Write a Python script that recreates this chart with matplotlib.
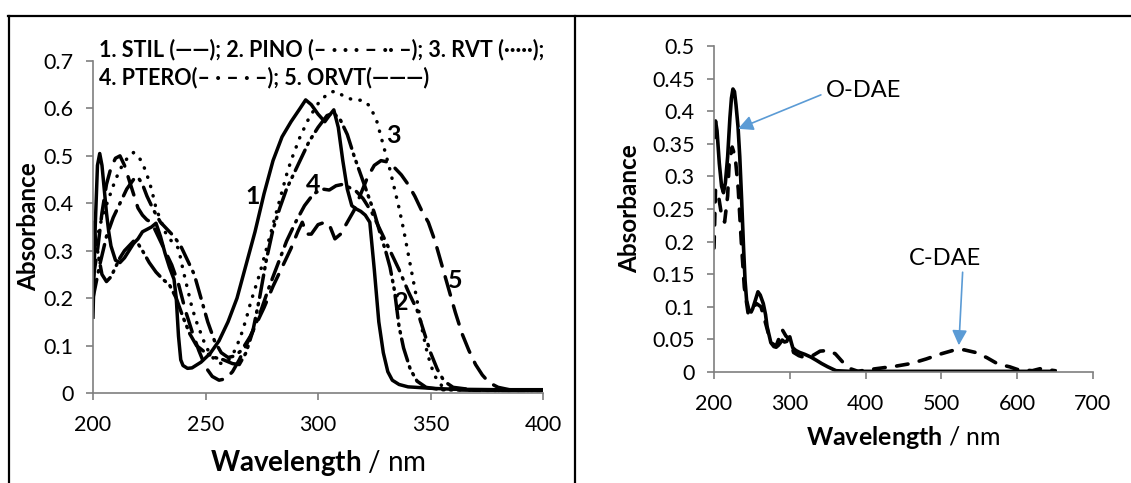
import matplotlib
matplotlib.use("Agg")
import matplotlib.pyplot as plt
from matplotlib.lines import Line2D

plt.rcParams['font.family'] = ['Lato', 'DejaVu Sans']
plt.rcParams['mathtext.fontset'] = 'custom'
plt.rcParams['mathtext.rm'] = 'Lato'
plt.rcParams['mathtext.bf'] = 'Lato:bold'

# ---- left panel: stilbene spectra ----
wl_stil = [200, 201, 202, 203, 204, 205, 206, 207, 208, 210, 212, 214, 216, 218, 220,
           222, 224, 226, 228, 230, 232, 234, 236, 237, 238, 239, 240, 242, 244, 248,
           252, 256, 260, 264, 268, 272, 276, 280, 284, 288, 292, 294.5, 297, 300,
           303, 305, 307, 309, 311, 313, 315, 317, 319, 321, 323, 325, 327, 329, 331,
           333, 336, 340, 350, 360, 380, 400]
abs_stil = [0.16, 0.35, 0.48, 0.505, 0.48, 0.43, 0.38, 0.34, 0.31, 0.28, 0.275, 0.285,
            0.3, 0.315, 0.325, 0.34, 0.345, 0.35, 0.358, 0.33, 0.295, 0.265, 0.24, 0.2,
            0.12, 0.07, 0.058, 0.052, 0.053, 0.065, 0.083, 0.11, 0.15, 0.2, 0.27, 0.34,
            0.42, 0.49, 0.54, 0.572, 0.6, 0.618, 0.608, 0.588, 0.572, 0.585, 0.597,
            0.56, 0.49, 0.43, 0.395, 0.388, 0.383, 0.375, 0.36, 0.26, 0.15, 0.085, 0.045,
            0.027, 0.018, 0.013, 0.01, 0.008, 0.007, 0.007]

wl_pino = [200, 202, 204, 206, 208, 210, 212, 214, 216, 218, 220, 222, 225, 228, 231,
           234, 237, 240, 243, 246, 250, 254, 258, 262, 265, 268, 271, 274, 277, 280,
           283, 286, 289, 292, 296, 300, 304, 307, 310, 313, 316, 319, 322, 325, 328,
           330, 332, 334, 336, 338, 341, 344, 348, 355, 380, 400]
abs_pino = [0.36, 0.3, 0.25, 0.235, 0.245, 0.265, 0.285, 0.3, 0.31, 0.32, 0.315, 0.3,
            0.275, 0.255, 0.24, 0.228, 0.2, 0.16, 0.125, 0.1, 0.085, 0.075, 0.07, 0.062,
            0.06, 0.085, 0.13, 0.2, 0.28, 0.345, 0.39, 0.43, 0.46, 0.49, 0.53, 0.56,
            0.585, 0.59, 0.575, 0.545, 0.5, 0.46, 0.42, 0.38, 0.33, 0.3, 0.265, 0.215,
            0.14, 0.095, 0.05, 0.025, 0.012, 0.007, 0.005, 0.005]

wl_rvt = [200, 202, 204, 207, 210, 213, 216, 218, 220, 222, 224, 226, 228, 230, 232,
          234, 236, 238, 240, 242, 244, 246, 248, 250, 252, 254, 256, 258, 260, 262,
          264, 266, 268, 270, 272, 274, 276, 278, 280, 282, 284, 286, 288, 290, 292,
          294, 296, 298, 300, 303, 306, 308, 310, 313, 316, 320, 323, 326, 328, 330,
          332, 334, 336, 338, 340, 342, 344, 346, 348, 350, 352, 355, 360, 380, 400]
abs_rvt = [0.28, 0.33, 0.37, 0.41, 0.45, 0.48, 0.5, 0.507, 0.5, 0.485, 0.46, 0.43, 0.39,
           0.365, 0.34, 0.325, 0.315, 0.305, 0.26, 0.22, 0.18, 0.15, 0.125, 0.1, 0.083,
           0.07, 0.063, 0.062, 0.068, 0.08, 0.1, 0.125, 0.155, 0.19, 0.22, 0.25, 0.285,
           0.32, 0.355, 0.39, 0.425, 0.46, 0.49, 0.515, 0.54, 0.56, 0.58, 0.595, 0.61,
           0.625, 0.635, 0.636, 0.63, 0.622, 0.618, 0.617, 0.605, 0.575, 0.54, 0.505,
           0.47, 0.43, 0.39, 0.345, 0.295, 0.245, 0.195, 0.14, 0.095, 0.06, 0.035, 0.015,
           0.007, 0.005, 0.005]

wl_ptero = [200, 203, 206, 209, 212, 215, 218, 220, 222, 224, 227, 230, 233, 236, 239,
            242, 245, 248, 251, 254, 257, 260, 263, 266, 270, 274, 278, 282, 286, 290,
            294, 298, 302, 305, 308, 311, 314, 317, 320, 324, 328, 332, 336, 340, 344,
            347, 350, 353, 356, 360, 370, 400]
abs_ptero = [0.2, 0.27, 0.33, 0.37, 0.4, 0.43, 0.45, 0.455, 0.44, 0.415, 0.385, 0.36,
             0.345, 0.33, 0.31, 0.28, 0.25, 0.2, 0.15, 0.11, 0.085, 0.075, 0.078, 0.09,
             0.12, 0.165, 0.22, 0.27, 0.32, 0.36, 0.395, 0.42, 0.43, 0.428, 0.437, 0.44,
             0.433, 0.425, 0.41, 0.38, 0.34, 0.3, 0.26, 0.215, 0.175, 0.13, 0.085, 0.05,
             0.025, 0.012, 0.006, 0.005]

wl_orvt = [200, 202, 204, 206, 208, 210, 212, 214, 216, 218, 220, 222, 224, 226, 229,
           232, 235, 238, 241, 244, 247, 250, 253, 256, 259, 262, 265, 268, 272, 276,
           280, 284, 288, 291, 293, 295, 297, 300, 303, 305, 307.5, 310, 313, 316, 319,
           322, 325, 328, 331, 334, 337, 340, 343, 346, 349, 352, 355, 358, 361, 364,
           367, 370, 373, 376, 380, 385, 400]
abs_orvt = [0.24, 0.3, 0.38, 0.44, 0.475, 0.495, 0.5, 0.48, 0.45, 0.42, 0.39, 0.375,
            0.365, 0.36, 0.33, 0.3, 0.27, 0.23, 0.175, 0.13, 0.09, 0.055, 0.035, 0.027,
            0.03, 0.045, 0.07, 0.1, 0.14, 0.18, 0.225, 0.265, 0.305, 0.34, 0.36, 0.335,
            0.335, 0.355, 0.36, 0.355, 0.325, 0.335, 0.36, 0.385, 0.42, 0.455, 0.48, 0.49,
            0.487, 0.475, 0.46, 0.44, 0.415, 0.385, 0.36, 0.32, 0.27, 0.22, 0.17, 0.125,
            0.09, 0.06, 0.038, 0.022, 0.012, 0.007, 0.005]

# ---- right panel: diarylethene open / closed ----
wl_odae = [200, 202, 204, 207, 210, 212.5, 215, 218, 221, 223, 225, 227, 229, 231.7,
           234, 236.5, 239, 241, 243, 246, 249, 251, 254, 258, 261, 265, 268, 270, 273,
           275, 279, 282, 285, 287, 290, 293, 296, 298, 300, 302, 304, 308, 313, 320,
           327.6, 335, 342, 350, 361, 380, 450, 550, 650]
abs_odae = [0.36, 0.385, 0.37, 0.32, 0.285, 0.275, 0.29, 0.33, 0.39, 0.42, 0.434, 0.43,
            0.41, 0.376, 0.33, 0.263, 0.19, 0.14, 0.11, 0.095, 0.092, 0.097, 0.108,
            0.123, 0.118, 0.105, 0.088, 0.07, 0.055, 0.045, 0.039, 0.038, 0.041, 0.044,
            0.049, 0.046, 0.047, 0.052, 0.054, 0.045, 0.037, 0.033, 0.03, 0.027, 0.023,
            0.018, 0.013, 0.008, 0.002, 0.001, 0.001, 0.001, 0.001]

wl_cdae = [200, 202, 206, 210, 214, 218, 220, 224, 228, 232, 236, 240, 245, 250, 256,
           262, 268, 275, 282, 290, 295, 300, 305, 312, 320, 330, 340, 350, 360, 370,
           380, 390, 400, 420, 440, 460, 480, 500, 515, 530, 545, 560, 575, 590, 600,
           620, 630, 650]
abs_cdae = [0.19, 0.28, 0.27, 0.24, 0.23, 0.27, 0.32, 0.345, 0.33, 0.28, 0.2, 0.13,
            0.09, 0.095, 0.105, 0.1, 0.075, 0.045, 0.04, 0.065, 0.055, 0.05, 0.03, 0.025,
            0.022, 0.025, 0.032, 0.033, 0.028, 0.015, 0.005, 0.001, 0.003, 0.006, 0.009,
            0.013, 0.02, 0.028, 0.033, 0.034, 0.03, 0.022, 0.012, 0.008, 0.004, 0.002,
            0.005, 0.002]

legend_line1 = "1. STIL (\u2014\u2014); 2. PINO (\u2013 \u00b7 \u00b7 \u00b7 \u2013 \u00b7\u00b7 \u2013); 3. RVT (\u00b7\u00b7\u00b7\u00b7\u00b7);"
legend_line2 = "4. PTERO(\u2013 \u00b7 \u2013 \u00b7 \u2013); 5. ORVT(\u2014\u2014\u2014)"

curve_labels = ["1", "2", "3", "4", "5"]
curve_label_x = [271, 337, 333.5, 298, 361]
curve_label_y = [0.415, 0.19, 0.543, 0.44, 0.238]

AX_COLOR = "#7f7f7f"


def style_axes(ax):
    for side in ("top", "right"):
        ax.spines[side].set_visible(False)
    for side in ("left", "bottom"):
        ax.spines[side].set_color(AX_COLOR)
        ax.spines[side].set_linewidth(1.2)
    ax.tick_params(direction="out", length=5, width=1.2, color=AX_COLOR,
                   labelsize=15.5, labelcolor="black")
    ax.tick_params(axis="x", pad=11)
    ax.tick_params(axis="y", pad=9)


fig = plt.figure(figsize=(11.31, 4.83), dpi=100)

# left panel
ax1 = fig.add_axes([0.0822, 0.1863, 0.398, 0.6874])
lw = 2.5
ax1.plot(wl_stil, abs_stil, color="black", lw=lw, solid_joinstyle="round")
ax1.plot(wl_pino, abs_pino, color="black", lw=lw, dashes=(6.5, 1.8, 0.4, 1.8, 0.4, 1.8),
         dash_capstyle="round")
ax1.plot(wl_rvt, abs_rvt, color="black", lw=lw, dashes=(0.1, 2.7),
         dash_capstyle="round")
ax1.plot(wl_ptero, abs_ptero, color="black", lw=lw, dashes=(5.5, 2.2, 0.4, 2.2),
         dash_capstyle="round")
ax1.plot(wl_orvt, abs_orvt, color="black", lw=lw, dashes=(5.5, 3.2),
         dash_capstyle="round")
ax1.set_xlim(200, 400)
ax1.set_ylim(0, 0.7)
ax1.set_xticks([200, 250, 300, 350, 400])
ax1.set_yticks([0, 0.1, 0.2, 0.3, 0.4, 0.5, 0.6, 0.7])
ax1.set_yticklabels(["0", "0.1", "0.2", "0.3", "0.4", "0.5", "0.6", "0.7"])
style_axes(ax1)
ax1.set_xlabel(r"$\bf{Wavelength}$ / nm", fontsize=20, labelpad=9)
ax1.set_ylabel("Absorbance", fontsize=17.5, fontweight="bold", labelpad=2)
for lab, lx, ly in zip(curve_labels, curve_label_x, curve_label_y):
    ax1.text(lx, ly, lab, fontsize=18, fontweight="bold", ha="center", va="center")
fig.text(0.0875, 0.8965, legend_line1, fontsize=15.5, fontweight="bold",
         ha="left", va="center")
fig.text(0.0875, 0.8385, legend_line2, fontsize=15.5, fontweight="bold",
         ha="left", va="center")

# right panel
ax2 = fig.add_axes([0.6313, 0.2298, 0.3351, 0.675])
ax2.plot(wl_odae, abs_odae, color="black", lw=2.6, solid_joinstyle="round")
ax2.plot(wl_cdae, abs_cdae, color="black", lw=2.6, dashes=(3.2, 3.2),
         dash_capstyle="round")
ax2.set_xlim(200, 700)
ax2.set_ylim(0, 0.5)
ax2.set_xticks([200, 300, 400, 500, 600, 700])
ax2.set_yticks([0, 0.05, 0.1, 0.15, 0.2, 0.25, 0.3, 0.35, 0.4, 0.45, 0.5])
ax2.set_yticklabels(["0", "0.05", "0.1", "0.15", "0.2", "0.25", "0.3", "0.35",
                     "0.4", "0.45", "0.5"])
style_axes(ax2)
ax2.set_xlabel(r"$\bf{Wavelength}$ / nm", fontsize=18, labelpad=7)
ax2.set_ylabel("Absorbance", fontsize=17.5, fontweight="bold", labelpad=8)

arrow_kw = dict(arrowstyle="-|>,head_length=0.9,head_width=0.45", color="#5b9bd5",
                lw=1.2, shrinkA=0, shrinkB=0)
ax2.annotate("", xy=(231.7, 0.373), xytext=(341, 0.425), arrowprops=arrow_kw)
ax2.text(347, 0.431, "O-DAE", fontsize=17, ha="left", va="center")
ax2.annotate("", xy=(523, 0.041), xytext=(528, 0.153), arrowprops=arrow_kw)
ax2.text(505, 0.174, "C-DAE", fontsize=17, ha="center", va="center")

# panel frame lines
frame_kw = dict(color="black", lw=1.6, transform=fig.transFigure)
fig.add_artist(Line2D([8 / 1131, 1.0], [1 - 16 / 483, 1 - 16 / 483], **frame_kw))
fig.add_artist(Line2D([9 / 1131, 9 / 1131], [0, 1 - 16 / 483], **frame_kw))
fig.add_artist(Line2D([575 / 1131, 575 / 1131], [0, 1 - 16 / 483], **frame_kw))

fig.savefig("out.png", dpi=100)
